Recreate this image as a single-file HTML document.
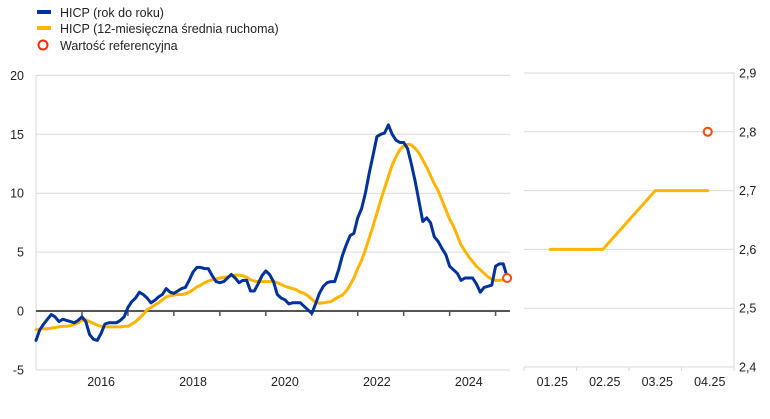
<!DOCTYPE html>
<html><head><meta charset="utf-8">
<style>
body{margin:0;background:#fff;}
svg{display:block;font-family:"Liberation Sans",sans-serif;}
</style></head>
<body>
<svg id="chart" width="770" height="419" viewBox="0 0 770 419" xmlns="http://www.w3.org/2000/svg">
  <g font-size="12.5" fill="#222">
    <rect x="37" y="10" width="14" height="4" fill="#003299"/>
    <text x="60" y="17">HICP (rok do roku)</text>
    <rect x="37" y="26" width="14" height="4" fill="#ffb400"/>
    <text x="60" y="33">HICP (12-miesięczna średnia ruchoma)</text>
    <circle cx="43" cy="45" r="4.5" fill="#fff" stroke="#ff2a00" stroke-width="2"/>
    <text x="60" y="50">Wartość referencyjna</text>
  </g>
  <g id="left"></g>
  <g id="right"></g>
</svg>
<script>
const leftTicks = [20, 15, 10, 5, 0, -5];
const yearLabels = ["2016", "2018", "2020", "2022", "2024"];
const hicpYoy = [-2.5,-1.6,-1.1,-0.7,-0.3,-0.5,-0.9,-0.7,-0.8,-0.9,-1.0,-0.8,-0.5,-0.9,-2.0,-2.4,-2.5,-1.9,-1.1,-1.0,-1.0,-1.0,-0.8,-0.5,0.3,0.8,1.1,1.6,1.4,1.1,0.7,0.9,1.2,1.4,1.9,1.6,1.5,1.7,1.9,2.0,2.6,3.3,3.7,3.7,3.6,3.6,3.0,2.5,2.4,2.5,2.8,3.1,2.8,2.4,2.6,2.6,1.7,1.7,2.3,3.0,3.4,3.1,2.5,1.4,1.1,0.95,0.6,0.7,0.7,0.7,0.4,0.1,-0.2,0.6,1.5,2.1,2.4,2.5,2.5,3.5,4.7,5.6,6.4,6.6,7.9,8.7,10.0,11.7,13.2,14.8,15.0,15.1,15.8,15.0,14.5,14.3,14.3,13.8,12.5,11.0,9.3,7.6,7.9,7.5,6.3,5.9,5.3,4.8,3.8,3.5,3.2,2.6,2.8,2.8,2.8,2.3,1.6,2.0,2.1,2.2,3.8,4.0,4.0,2.9];
const hicpMa = [-1.6,-1.55,-1.5,-1.5,-1.45,-1.4,-1.35,-1.3,-1.3,-1.25,-1.15,-1.0,-0.8,-0.75,-0.9,-1.05,-1.2,-1.3,-1.35,-1.35,-1.35,-1.35,-1.35,-1.3,-1.3,-1.1,-0.9,-0.6,-0.3,0.1,0.3,0.5,0.7,0.95,1.2,1.3,1.35,1.4,1.4,1.45,1.6,1.8,2.05,2.2,2.4,2.55,2.65,2.7,2.8,2.85,2.9,3.0,3.05,3.05,3.0,2.85,2.65,2.55,2.5,2.5,2.5,2.5,2.5,2.4,2.25,2.1,2.0,1.9,1.8,1.6,1.5,1.3,1.0,0.75,0.65,0.7,0.75,0.8,1.0,1.2,1.35,1.7,2.2,2.8,3.6,4.3,5.2,6.2,7.2,8.3,9.4,10.4,11.4,12.4,13.1,13.7,14.0,14.15,14.1,13.8,13.4,12.8,12.2,11.5,10.8,10.2,9.4,8.6,7.8,7.2,6.4,5.6,5.1,4.6,4.2,3.8,3.5,3.2,2.9,2.7,2.6,2.6,2.65,2.65];
const referenceValue = 2.8;
const rightCategories = ["01.25", "02.25", "03.25", "04.25"];
const rightMa = [2.6, 2.6, 2.7, 2.7];
const rightTicks = [2.9, 2.8, 2.7, 2.6, 2.5, 2.4];
const rightReference = [null, null, null, 2.8];

const NS = "http://www.w3.org/2000/svg";
function mk(parent, tag, attrs){const e=document.createElementNS(NS,tag);for(const k in attrs)e.setAttribute(k,attrs[k]);parent.appendChild(e);return e;}

// left axes
const L = {x0:36, x1:510, y0:311, pxPerUnit:11.78, mx:3.83};
const ly = v => L.y0 - v*L.pxPerUnit;
const lx = m => L.x0 + m*L.mx;
const left = document.getElementById('left');
leftTicks.forEach(t=>{
  if(t!==0){
    const g=mk(left,'line',{x1:L.x0,x2:L.x1,y1:ly(t),y2:ly(t),stroke:'#d9d9d9','stroke-width':1});
    
    
  }
  const tx=mk(left,'text',{x:24,y:ly(t)+4.5,'text-anchor':'end','font-size':12.5,fill:'#222'});
  tx.textContent=String(t);
  
  
});
const yax=mk(left,'line',{x1:L.x0,x2:L.x0,y1:ly(20),y2:ly(-5),stroke:'#d9d9d9','stroke-width':1});


const zero=mk(left,'line',{x1:L.x0,x2:L.x1,y1:ly(0),y2:ly(0),stroke:'#555','stroke-width':2});


for(let yr=1; yr<=10; yr++){
  const t=mk(left,'line',{x1:lx(yr*12),x2:lx(yr*12),y1:ly(0),y2:ly(0)+5,stroke:'#555','stroke-width':1.5});
  
  
}
yearLabels.forEach((lab,i)=>{
  const m=(+lab-2015)*12+5;
  const t=mk(left,'text',{x:lx(m),y:386,'text-anchor':'middle','font-size':12.5,fill:'#222'});
  t.textContent=lab;
  
  
});
function poly(parent,arr,xf,yf,color,name){
  const pts=arr.map((v,i)=>v==null?null:xf(i).toFixed(1)+','+yf(v).toFixed(1)).filter(Boolean).join(' ');
  const p=mk(parent,'polyline',{points:pts,fill:'none',stroke:color,'stroke-width':3,'stroke-linejoin':'round','stroke-linecap':'round'});
  
  
}
poly(left,hicpMa,lx,ly,'#ffb400','line-hicp-moving-average');
poly(left,hicpYoy,lx,ly,'#003299','line-hicp-yoy');
const lc=mk(left,'circle',{cx:lx(hicpYoy.length-1),cy:ly(referenceValue),r:4,fill:'#fff',stroke:'#ff4b00','stroke-width':2});



// right panel
const R = {x0:524, x1:734, yTop:73, yBot:367, vmin:2.4, vmax:2.9};
const ry = v => R.yBot - (v-R.vmin)/(R.vmax-R.vmin)*(R.yBot-R.yTop);
const band = (R.x1-R.x0)/rightCategories.length;
const rx = i => R.x0 + band*(i+0.5);
const right = document.getElementById('right');
rightTicks.forEach(t=>{
  const g=mk(right,'line',{x1:R.x0,x2:R.x1,y1:ry(t),y2:ry(t),stroke:'#d9d9d9','stroke-width':1});
  
  
  const tx=mk(right,'text',{x:739,y:ry(t)+4.5,'font-size':12.5,fill:'#222'});
  tx.textContent=t.toFixed(1).replace('.',',');
  
  
});
const rax=mk(right,'line',{x1:R.x1,x2:R.x1,y1:R.yTop,y2:R.yBot+4,stroke:'#d9d9d9','stroke-width':1});


for(let i=0;i<=rightCategories.length;i++){
  const t=mk(right,'line',{x1:R.x0+band*i,x2:R.x0+band*i,y1:R.yBot,y2:R.yBot+4,stroke:'#d9d9d9','stroke-width':1});
  
  
}
rightCategories.forEach((c,i)=>{
  const t=mk(right,'text',{x:rx(i)+2,y:386,'text-anchor':'middle','font-size':12.5,fill:'#222'});
  t.textContent=c;
  
  
});
poly(right,rightMa,rx,ry,'#ffb400','right-line-hicp-moving-average');
rightReference.forEach((v,i)=>{
  if(v==null) return;
  const c=mk(right,'circle',{cx:rx(i),cy:ry(v),r:4,fill:'#fff',stroke:'#ff4b00','stroke-width':2});
  
  
});
</script>
</body></html>
